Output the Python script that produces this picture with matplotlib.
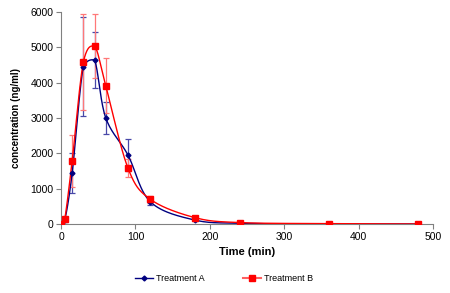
import numpy as np
import matplotlib.pyplot as plt

plt.rcParams['font.family'] = ['Liberation Sans', 'DejaVu Sans']

# sampling times (min)
time_a = [0, 5, 15, 30, 45, 60, 90, 120, 180, 240, 360, 480]
conc_a = [0, 100, 1445, 4456, 4646, 3011, 1950, 630, 110, 20, 0, 0]
err_a = [0, 30, 560, 1390, 790, 450, 450, 100, 30, 10, 0, 0]

time_b = [0, 5, 15, 30, 45, 60, 90, 120, 180, 240, 360, 480]
conc_b = [0, 140, 1785, 4580, 5034, 3918, 1580, 700, 180, 40, 10, 0]
err_b = [0, 40, 740, 1350, 900, 790, 250, 100, 40, 15, 0, 0]


def smooth_line(x, y, n=30):
    """Excel-like smoothed line (bezier segments, control points kept in segment range)"""
    x = np.asarray(x, float)
    y = np.asarray(y, float)
    p = np.column_stack([x, y])
    p = np.vstack([p[0], p, p[-1]])
    t = np.linspace(0, 1, n)[:, None]
    out = []
    for i in range(1, len(p) - 2):
        p0, p1, p2, p3 = p[i - 1], p[i], p[i + 1], p[i + 2]
        c1 = p1 + (p2 - p0) / 6
        c2 = p2 - (p3 - p1) / 6
        lo, hi = min(p1[1], p2[1]), max(p1[1], p2[1])
        pad = 0.04 * (hi - lo)
        c1[1] = np.clip(c1[1], lo - pad, hi + pad)
        c2[1] = np.clip(c2[1], lo - pad, hi + pad)
        seg = ((1 - t) ** 3) * p1 + 3 * ((1 - t) ** 2) * t * c1 + 3 * (1 - t) * t ** 2 * c2 + t ** 3 * p2
        out.append(seg)
    out = np.vstack(out)
    return out[:, 0], out[:, 1]


fig = plt.figure(figsize=(4.5, 2.93), dpi=100)
ax = fig.add_axes([0.1356, 0.2355, 0.8267, 0.7235])

blue = '#000080'
red = '#FF0000'

sx, sy = smooth_line(time_a, conc_a)
ax.plot(sx, sy, color=blue, lw=1, zorder=3)
ax.errorbar(time_a, conc_a, yerr=err_a, fmt='none', ecolor='#4848A8', elinewidth=0.9,
            capsize=2.5, capthick=0.9, zorder=2)
ax.plot(time_a, conc_a, ls='none', marker='D', ms=2.5, color=blue, zorder=4)

sx, sy = smooth_line(time_b, conc_b)
ax.plot(sx, sy, color=red, lw=1, zorder=3)
ax.errorbar(time_b, conc_b, yerr=err_b, fmt='none', ecolor='#FF7878', elinewidth=0.9,
            capsize=2.5, capthick=0.9, zorder=2)
ax.plot(time_b, conc_b, ls='none', marker='s', ms=4.5, color=red, zorder=4)

# legend proxies
ax.plot([], [], color=blue, lw=1, marker='D', ms=2.5, label='Treatment A')
ax.plot([], [], color='#FF6060', lw=1.5, marker='s', ms=4.5, mfc=red, mec=red, label='Treatment B')

ax.set_xlim(0, 500)
ax.set_ylim(0, 6000)
ax.set_xticks(range(0, 501, 100))
ax.set_yticks(range(0, 6001, 1000))
ax.spines['top'].set_visible(False)
ax.spines['right'].set_visible(False)
for s in ('left', 'bottom'):
    ax.spines[s].set_color('#808080')
    ax.spines[s].set_linewidth(0.8)
ax.tick_params(direction='out', length=3.5, width=0.8, color='#808080', labelsize=7.5, pad=2)

ax.set_xlabel('Time (min)', fontsize=8, fontweight='bold', labelpad=4)
ax.set_ylabel('concentration (ng/ml)', fontsize=7, fontweight='bold', labelpad=7)

handles, labels = ax.get_legend_handles_labels()
fig.legend(handles[-2:], labels[-2:], loc='center', bbox_to_anchor=(0.498, 0.048), ncol=2,
           frameon=False, fontsize=6.5, columnspacing=4.3, handlelength=2.0, handletextpad=0.35)

fig.savefig('out.png', dpi=100)
